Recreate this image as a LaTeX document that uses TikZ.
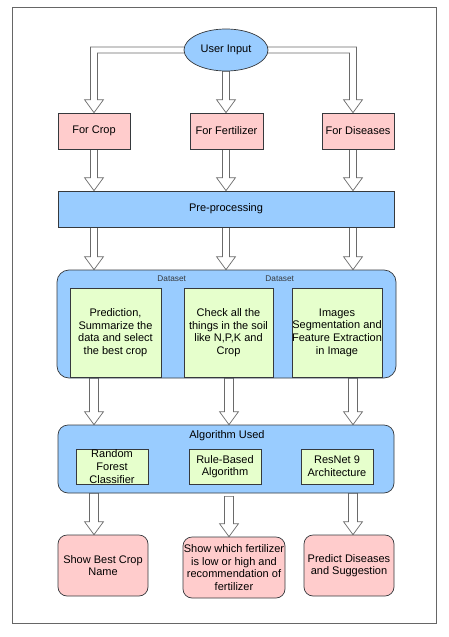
\documentclass[tikz,border=0pt]{standalone}
\usepackage{fontspec}
\setmainfont{Liberation Sans}
\usetikzlibrary{shapes.geometric,backgrounds,calc}
\definecolor{pinkc}{HTML}{FFCCCC}
\definecolor{bluec}{HTML}{99CCFF}
\definecolor{greenc}{HTML}{E6FFCC}
\definecolor{strokec}{HTML}{36393D}
\definecolor{arrowc}{HTML}{6A6A6A}
\newcommand{\varrow}[3]{%
 \draw[blockarrow] let \p1=#1, \p2=#2 in (\x1-#3,\y1) -- (\x1-#3,\y2+13pt) -- (\x1-9.5pt,\y2+13pt) -- (\x1,\y2) -- (\x1+9.5pt,\y2+13pt) -- (\x1+#3,\y2+13pt) -- (\x1+#3,\y1) -- cycle;}
\tikzset{
  blockarrow/.style={draw=arrowc, fill=white, line width=0.7pt, line join=miter},
  basebox/.style={draw=strokec, line width=0.7pt, inner sep=0pt, align=center, font=\fontsize{11}{12.6}\selectfont},
  pinkbox/.style={basebox, fill=pinkc},
  bluebox/.style={basebox, fill=bluec},
  greenbox/.style={basebox, fill=greenc},
  txt/.style={inner sep=0pt, align=center, font=\fontsize{11}{12.6}\selectfont},
  smalltxt/.style={inner sep=0pt, font=\fontsize{8.3}{9}\selectfont, text=strokec},
}
\begin{document}
\begin{tikzpicture}[x=1pt,y=-1pt]
\useasboundingbox (0,0) rectangle (448,637);
% column coordinates
\coordinate (cA) at (94,0);
\coordinate (cB) at (226,0);
\coordinate (cC) at (353,0);
\coordinate (dB) at (229,0);
% nodes
\node[bluebox, ellipse, minimum width=84, minimum height=42] (ui) at (226,50) {User Input};
\node[pinkbox, minimum width=72, minimum height=36] (crop) at (94,131) {For Crop};
\node[pinkbox, minimum width=73, minimum height=36] (fert) at (226.5,131) {For Fertilizer};
\node[pinkbox, minimum width=72, minimum height=36] (dis) at (358,131) {For Diseases};
\node[bluebox, minimum width=336, minimum height=36] (pre) at (226,209) {Pre-processing};
\node[bluebox, rounded corners=12, minimum width=339, minimum height=108] (data) at (226.5,324) {};
\node[smalltxt] (ds1) at (171.7,278.5) {Dataset};
\node[smalltxt] (ds2) at (279.7,278.5) {Dataset};
\node[greenbox, minimum width=91, minimum height=89] (b1) at (115.5,332.5) {Prediction,\\Summarize the\\data and select\\the best crop};
\node[greenbox, minimum width=89, minimum height=89] (b2) at (228.5,332.5) {Check all the\\things in the soil\\like N,P,K and\\Crop};
\node[greenbox, minimum width=90, minimum height=89] (b3) at (337,332.5) {Images\\Segmentation and\\Feature Extraction\\in Image};
\node[bluebox, rounded corners=10, minimum width=336, minimum height=68] (alg) at (226,459) {};
\node[txt] (algt) at (227,436) {Algorithm Used};
\node[greenbox, minimum width=72, minimum height=35] (rf) at (112,466.5) {};
\node[txt] (rft) at (rf.center) {Random\\Forest\\Classifier};
\node[greenbox, minimum width=72, minimum height=35] (rb) at (225,466.5) {Rule-Based\\Algorithm};
\node[greenbox, minimum width=72, minimum height=35] (rn) at (337,466.5) {ResNet 9\\Architecture};
\node[pinkbox, rounded corners=9, minimum width=90, minimum height=61] (o1) at (103,565.5) {Show Best Crop\\Name};
\node[pinkbox, rounded corners=9, minimum width=102, minimum height=61] (o2) at (234,567.5) {Show which fertilizer\\is low or high and\\recommendation of\\fertilizer};
\node[pinkbox, rounded corners=9, minimum width=90, minimum height=61] (o3) at (349,565.5) {Predict Diseases\\and Suggestion};
\begin{pgfonlayer}{background}
\draw[draw=black!60, line width=0.6pt] (12,7) rectangle (436,623);
% L-shaped arrows from user input
\draw[blockarrow] let \p1=(ui.west), \p2=(cA |- crop.north) in
  (\x1+4pt,\y1+3pt) -- (\x2-3.5pt,\y1+3pt) -- (\x2-3.5pt,\y2+13pt) -- (\x2-9.5pt,\y2+13pt) -- (\x2,\y2) -- (\x2+9.5pt,\y2+13pt) -- (\x2+3.5pt,\y2+13pt) -- (\x2+3.5pt,\y1-3pt) -- (\x1+4pt,\y1-3pt) -- cycle;
\draw[blockarrow] let \p1=(ui.east), \p2=(cC |- dis.north) in
  (\x1-4pt,\y1+3pt) -- (\x2+3.5pt,\y1+3pt) -- (\x2+3.5pt,\y2+13pt) -- (\x2+9.5pt,\y2+13pt) -- (\x2,\y2) -- (\x2-9.5pt,\y2+13pt) -- (\x2-3.5pt,\y2+13pt) -- (\x2-3.5pt,\y1-3pt) -- (\x1-4pt,\y1-3pt) -- cycle;
\varrow{(cB |- ui.south)}{(cB |- fert.north)}{3.5pt}
% boxes to pre-processing
\varrow{(cA |- crop.south)}{(cA |- pre.north)}{3.5pt}
\varrow{(cB |- fert.south)}{(cB |- pre.north)}{3.5pt}
\varrow{(cC |- dis.south)}{(cC |- pre.north)}{3.5pt}
% pre-processing to data
\varrow{(cA |- pre.south)}{(cA |- data.north)}{3.5pt}
\varrow{(cB |- pre.south)}{(cB |- data.north)}{3.5pt}
\varrow{(cC |- pre.south)}{(cC |- data.north)}{3.5pt}
% data to algorithm
\varrow{(cA |- data.south)}{(cA |- alg.north)}{4.5pt}
\varrow{(dB |- data.south)}{(dB |- alg.north)}{4.5pt}
\varrow{(cC |- data.south)}{(cC |- alg.north)}{4.5pt}
% algorithm to outputs
\varrow{(cA |- alg.south)}{(cA |- o1.north)}{4.5pt}
\varrow{($(dB |- alg.south)+(0,3)$)}{(dB |- o2.north)}{4.5pt}
\varrow{(cC |- alg.south)}{(cC |- o3.north)}{4.5pt}
\end{pgfonlayer}
\end{tikzpicture}
\end{document}
